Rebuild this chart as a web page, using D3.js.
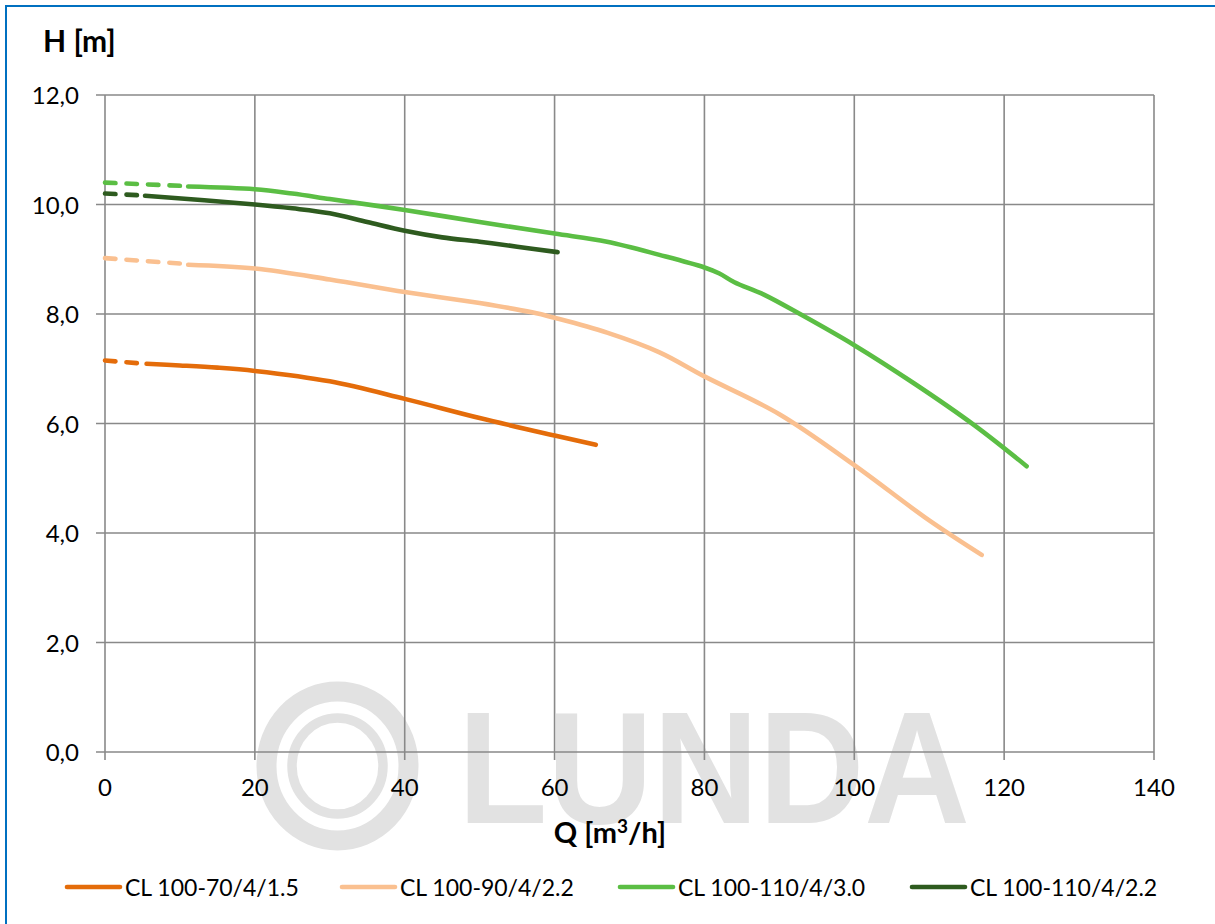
<!DOCTYPE html>
<html>
<head>
<meta charset="utf-8">
<script src="https://cdn.jsdelivr.net/npm/d3@7"></script>
<style>
  html, body { margin: 0; padding: 0; background: #fff; }
  svg { display: block; }
  text { font-family: Lato, "Open Sans", sans-serif; fill: #000; }
</style>
</head>
<body>
<svg id="chart" width="1215" height="924"></svg>
<script>
// ---- Data ----
const seriesNames = ["CL 100-70/4/1.5", "CL 100-90/4/2.2", "CL 100-110/4/3.0", "CL 100-110/4/2.2"];
const seriesColors = ["#E46C0A", "#FAC090", "#5BBE44", "#2E5B1F"];

const q70 = [0, 4.45, 5.55, 10, 15, 20, 30, 40, 50, 60, 65.5];
const h70 = [7.15, 7.10, 7.09, 7.06, 7.02, 6.96, 6.77, 6.45, 6.10, 5.78, 5.61];

const q90 = [0, 10.2, 11.1, 20, 30, 40, 50, 57, 60, 67, 74, 80, 90, 100, 110, 117];
const h90 = [9.02, 8.92, 8.90, 8.83, 8.63, 8.40, 8.20, 8.03, 7.93, 7.66, 7.30, 6.86, 6.17, 5.24, 4.23, 3.60];

const q110a = [0, 10.2, 11.1, 20, 25, 30, 40, 50, 60, 67, 74, 80, 82, 84, 88, 93, 100, 108, 116, 123];
const h110a = [10.40, 10.34, 10.33, 10.28, 10.20, 10.10, 9.90, 9.68, 9.47, 9.32, 9.08, 8.85, 8.74, 8.58, 8.35, 7.98, 7.43, 6.73, 5.97, 5.22];

const q110b = [0, 4.45, 5.35, 20, 25, 30, 35, 40, 45, 50, 55, 60.4];
const h110b = [10.20, 10.17, 10.16, 10.00, 9.93, 9.84, 9.68, 9.52, 9.40, 9.32, 9.23, 9.13];

// extrapolated (dashed) part ends at dashedTo; measured (solid) part starts at solidFrom
const dashedTo  = [4.45, 10.2, 10.2, 4.45];
const solidFrom = [5.55, 11.1, 11.1, 5.35];

const xTicks = [0, 20, 40, 60, 80, 100, 120, 140];
const yTicks = [0, 2, 4, 6, 8, 10, 12];
const yTitle = "H [m]";
const watermarkText = "LUNDA";

const seriesQ = [q70, q90, q110a, q110b];
const seriesH = [h70, h90, h110a, h110b];

// ---- Layout ----
const svg = d3.select("#chart");
const pL = 105, pR = 1154, pT = 95, pB = 752;
const x = d3.scaleLinear().domain([0, 140]).range([pL, pR]);
const y = d3.scaleLinear().domain([0, 12]).range([pB, pT]);
const gridColor = "#898989";

// outer frame (blue)
svg.append("path")
  .attr("d", "M6,930 L6,6 L1220,6")
  .attr("fill", "none").attr("stroke", "#0070C0").attr("stroke-width", 2);

// ---- Watermark ----
const wm = svg.append("g").attr("fill", "none").attr("stroke", "#E2E2E2");
wm.append("ellipse").attr("cx", 337.5).attr("cy", 766).attr("rx", 71).attr("ry", 74.5).attr("stroke-width", 20);
wm.append("ellipse").attr("cx", 337.5).attr("cy", 766).attr("rx", 45.5).attr("ry", 48).attr("stroke-width", 9.5);
svg.append("text")
  .attr("x", 458).attr("y", 823)
  .attr("textLength", 512).attr("lengthAdjust", "spacingAndGlyphs")
  .style("font-family", "'Liberation Sans', Arial, sans-serif")
  .style("font-weight", "bold").style("font-size", "159px")
  .style("fill", "#E2E2E2")
  .text(watermarkText);

// ---- Grid ----
const grid = svg.append("g");
grid.selectAll("line.h").data(yTicks).join("line")
  .attr("x1", pL - 9).attr("x2", pR)
  .attr("y1", d => y(d)).attr("y2", d => y(d))
  .attr("stroke", gridColor).attr("stroke-width", 1.6);
grid.selectAll("line.v").data(xTicks).join("line")
  .attr("x1", d => x(d)).attr("x2", d => x(d))
  .attr("y1", pT).attr("y2", pB + 8)
  .attr("stroke", gridColor).attr("stroke-width", 1.6);

// ---- Axis labels ----
svg.append("g").selectAll("text").data(yTicks).join("text")
  .attr("x", 79).attr("y", d => y(d) + 9)
  .attr("text-anchor", "end")
  .style("font-size", "24px")
  .text(d => d3.format(".1f")(d).replace(".", ","));

svg.append("g").selectAll("text").data(xTicks).join("text")
  .attr("x", d => x(d)).attr("y", 796)
  .attr("text-anchor", "middle")
  .style("font-size", "24px")
  .text(d => d);

svg.append("text").attr("x", 43).attr("y", 52)
  .style("font-size", "30px").style("font-weight", "bold")
  .text(yTitle);

const xt = svg.append("text").attr("x", 610).attr("y", 843)
  .attr("text-anchor", "middle")
  .style("font-size", "29px").style("font-weight", "bold");
xt.append("tspan").text("Q [m");
xt.append("tspan").attr("dy", -10).style("font-size", "19px").text("3");
xt.append("tspan").attr("dy", 10).text("/h]");

// ---- Curves ----
const line = d3.line()
  .x(d => x(d.q)).y(d => y(d.h))
  .curve(d3.curveCatmullRom.alpha(0.5));

const curves = svg.append("g").attr("fill", "none")
  .attr("stroke-width", 4.6).attr("stroke-linecap", "round").attr("stroke-linejoin", "round");

seriesNames.forEach((name, i) => {
  const pts = seriesQ[i].map((q, j) => ({ q, h: seriesH[i][j] }));
  const dashed = pts.filter(p => p.q <= dashedTo[i] + 1e-9);
  const solid = pts.filter(p => p.q >= solidFrom[i] - 1e-9);
  curves.append("path").datum(dashed)
    .attr("d", line).attr("stroke", seriesColors[i])
    .attr("stroke-dasharray", "10.5,11");
  curves.append("path").datum(solid)
    .attr("d", line).attr("stroke", seriesColors[i]);
});

// ---- Legend ----
const legendX = [67, 342, 620, 912];
const legend = svg.append("g");
seriesNames.forEach((name, i) => {
  legend.append("line")
    .attr("x1", legendX[i]).attr("x2", legendX[i] + 53)
    .attr("y1", 887).attr("y2", 887)
    .attr("stroke", seriesColors[i]).attr("stroke-width", 4.6).attr("stroke-linecap", "round");
  legend.append("text")
    .attr("x", legendX[i] + 58).attr("y", 896)
    .style("font-size", "23px")
    .text(name);
});
</script>
</body>
</html>
